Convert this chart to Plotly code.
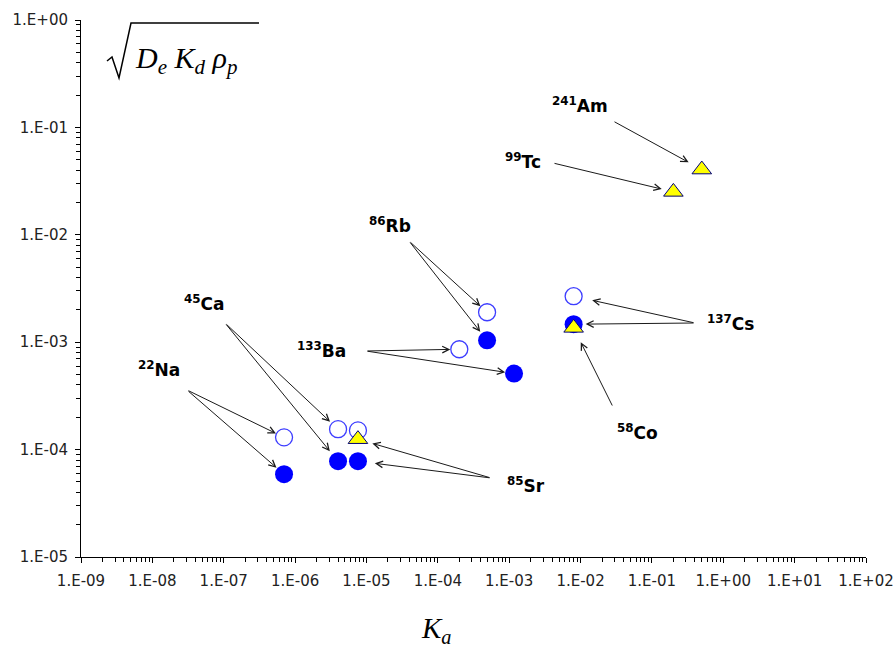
import numpy as np
import plotly.graph_objects as go

# ---------------- data ----------------
x_tick_vals = [1e-9, 1e-8, 1e-7, 1e-6, 1e-5, 1e-4, 1e-3, 1e-2, 1e-1, 1e0, 1e1, 1e2]
x_tick_labels = ["1.E-09", "1.E-08", "1.E-07", "1.E-06", "1.E-05", "1.E-04",
                 "1.E-03", "1.E-02", "1.E-01", "1.E+00", "1.E+01", "1.E+02"]
y_tick_vals = [1e-5, 1e-4, 1e-3, 1e-2, 1e-1, 1e0]
y_tick_labels = ["1.E-05", "1.E-04", "1.E-03", "1.E-02", "1.E-01", "1.E+00"]

# open circles
open_nuclides = ["22Na", "45Ca", "85Sr", "133Ba", "86Rb", "137Cs"]
open_ka = [7.0e-7, 4.0e-6, 7.6e-6, 2.0e-4, 4.9e-4, 8.0e-3]
open_val = [1.30e-4, 1.55e-4, 1.51e-4, 8.6e-4, 1.90e-3, 2.68e-3]

# filled circles
filled_nuclides = ["22Na", "45Ca", "85Sr", "133Ba", "86Rb", "137Cs"]
filled_ka = [7.0e-7, 4.0e-6, 7.6e-6, 1.17e-3, 4.9e-4, 8.0e-3]
filled_val = [5.9e-5, 7.8e-5, 7.8e-5, 5.1e-4, 1.04e-3, 1.47e-3]

# triangles
tri_nuclides = ["85Sr", "58Co", "99Tc", "241Am"]
tri_ka = [7.6e-6, 8.0e-3, 0.20, 0.50]
tri_val = [1.25e-4, 1.36e-3, 0.0251, 0.0405]

# ---------------- geometry ----------------
W, H = 895, 652
L, R, T, B = 81, 29, 20, 95
PW, PH = W - L - R, H - T - B
XR, YR = [-9, 2], [-5, 0]


def px_logx(px):
    return XR[0] + (px - L) / PW * (XR[1] - XR[0])


def px_logy(py):
    return YR[1] - (py - T) / PH * (YR[1] - YR[0])


def pap(px, py):
    return (px - L) / PW, (H - B - py) / PH


series = {
    "open": (open_nuclides, open_ka, open_val),
    "filled": (filled_nuclides, filled_ka, filled_val),
    "tri": (tri_nuclides, tri_ka, tri_val),
}

fig = go.Figure()
fig.add_trace(go.Scatter(x=open_ka, y=open_val, mode="markers", name="open",
                         text=open_nuclides,
                         marker=dict(symbol="circle", size=17, color="white",
                                     line=dict(color="#3d3dff", width=1.3))))
fig.add_trace(go.Scatter(x=filled_ka, y=filled_val, mode="markers", name="filled",
                         text=filled_nuclides,
                         marker=dict(symbol="circle", size=18, color="#0000ff",
                                     line=dict(color="#0000ff", width=0))))
fig.add_trace(go.Scatter(x=tri_ka, y=tri_val, mode="markers", name="tri",
                         text=tri_nuclides,
                         marker=dict(symbol="triangle-up", size=17, color="#ffff00",
                                     line=dict(color="#00007a", width=1))))

# labels: text, centre (pixels)
labels = {
    "22Na": ("<sup>22</sup>Na", 159, 369),
    "45Ca": ("<sup>45</sup>Ca", 204, 303),
    "133Ba": ("<sup>133</sup>Ba", 321, 350),
    "86Rb": ("<sup>86</sup>Rb", 390, 225),
    "85Sr": ("<sup>85</sup>Sr", 526, 485),
    "137Cs": ("<sup>137</sup>Cs", 730, 323),
    "58Co": ("<sup>58</sup>Co", 637, 432),
    "99Tc": ("<sup>99</sup>Tc", 523, 161),
    "241Am": ("<sup>241</sup>Am", 580, 105),
}
for key, (txt, cx, cy) in labels.items():
    px, py = pap(cx, cy)
    fig.add_annotation(x=px, y=py, xref="paper", yref="paper", text="<b>" + txt + "</b>",
                       showarrow=False, xanchor="center", yanchor="middle",
                       font=dict(family="DejaVu Sans", size=17, color="black"))

# arrows: (series, nuclide, tail px, tail py, standoff)
arrows = [
    ("open", "22Na", 187, 390, 9), ("filled", "22Na", 187, 390, 10),
    ("open", "45Ca", 225, 323, 11), ("filled", "45Ca", 225, 323, 13),
    ("open", "133Ba", 366, 351, 9), ("filled", "133Ba", 366, 351, 9),
    ("open", "86Rb", 409, 241, 9), ("filled", "86Rb", 409, 241, 11),
    ("tri", "85Sr", 491, 478, 15), ("filled", "85Sr", 491, 478, 17),
    ("open", "137Cs", 695, 323, 19), ("filled", "137Cs", 695, 323, 12),
    ("tri", "58Co", 613, 407, 16),
    ("tri", "99Tc", 553, 163, 12),
    ("tri", "241Am", 613, 121, 15),
]
for s, nuc, tx, ty, so in arrows:
    names, xs, ys = series[s]
    i = names.index(nuc)
    fig.add_annotation(x=np.log10(xs[i]), y=np.log10(ys[i]), xref="x", yref="y",
                       ax=px_logx(tx), ay=px_logy(ty), axref="x", ayref="y",
                       text="", showarrow=True, arrowhead=5, arrowsize=1.3,
                       arrowwidth=1, arrowcolor="#1a1a1a", standoff=so)

# axis titles
kx, ky = pap(436, 630)
fig.add_annotation(x=kx, y=ky, xref="paper", yref="paper",
                   text="<i>K<sub>a</sub></i>", showarrow=False,
                   xanchor="center", yanchor="middle",
                   font=dict(family="Liberation Serif", size=29, color="black"))
tx0, ty0 = pap(133, 60)
fig.add_annotation(x=tx0, y=ty0, xref="paper", yref="paper",
                   text="<i>D<sub>e</sub> K<sub>d</sub> ρ<sub>p</sub></i>", showarrow=False,
                   xanchor="left", yanchor="middle",
                   font=dict(family="Liberation Serif", size=30, color="black"))
# radical sign
pts = [(107, 61), (112, 57), (119, 78), (131, 23), (259, 23)]
path = "M " + " L ".join("%.5f,%.5f" % pap(a, b) for a, b in pts)
fig.add_shape(type="path", path=path, xref="paper", yref="paper",
              line=dict(color="black", width=1.5))

minor_x = [m * 10.0 ** k for k in range(-9, 2) for m in range(2, 10)]
minor_y = [m * 10.0 ** k for k in range(-5, 0) for m in range(2, 10)]

axis_common = dict(type="log", showgrid=False, zeroline=False, showline=True,
                   linecolor="black", linewidth=1, ticks="outside", ticklen=5,
                   tickcolor="black", tickwidth=1, automargin=False,
                   tickfont=dict(family="DejaVu Sans", size=15, color="#222"))
fig.update_xaxes(range=XR, tickvals=x_tick_vals, ticktext=x_tick_labels,
                 ticklabelstandoff=5,
                 minor=dict(tickvals=minor_x, ticks="outside", ticklen=4,
                            tickcolor="black", showgrid=False),
                 **axis_common)
fig.update_yaxes(range=YR, tickvals=y_tick_vals, ticktext=y_tick_labels,
                 ticklabelstandoff=4,
                 minor=dict(tickvals=minor_y, ticks="outside", ticklen=4,
                            tickcolor="black", showgrid=False),
                 **axis_common)

fig.update_layout(width=W, height=H, margin=dict(l=L, r=R, t=T, b=B, autoexpand=False),
                  paper_bgcolor="white", plot_bgcolor="white", showlegend=False)

fig.write_html("out.html")
